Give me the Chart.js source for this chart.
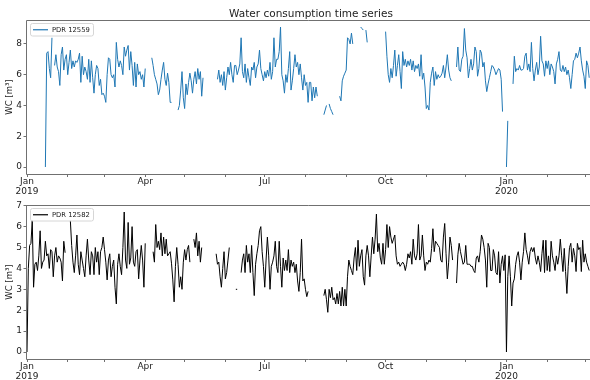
<!DOCTYPE html>
<html>
<head>
<meta charset="utf-8">
<script src="https://cdn.jsdelivr.net/npm/chart.js@4.4.1/dist/chart.umd.min.js"></script>
<style>
  html, body { margin: 0; padding: 0; background: #fff; overflow: hidden; }
  #wrap { position: relative; width: 590px; height: 380px; }
  .box { position: absolute; left: 0; width: 590px; }
  #topBox { top: 0; height: 200px; }
  #botBox { top: 185px; height: 195px; }
</style>
</head>
<body>
<div id="wrap">
  <div class="box" id="topBox"><canvas id="topChart"></canvas></div>
  <div class="box" id="botBox"><canvas id="botChart"></canvas></div>
</div>
<script>
// x axis: days since 2019-01-01, ticks at month starts
const tickDays = [0, 31, 59, 90, 120, 151, 181, 212, 243, 273, 304, 334, 365, 396, 425];
const tickLabels = [['Jan', '2019'], '', '', 'Apr', '', '', 'Jul', '', '', 'Oct', '', '', ['Jan', '2020'], '', ''];

// PDR 12559 - segments (first day of each run, daily values), gaps between
const starts12559 = [14, 21, 95, 115, 145, 226, 230, 238, 254, 258, 273, 327, 365, 370];
const vals12559 = [
  [0.0, 7.4, 7.5, 6.4, 5.8, 8.4],
  [6.6, 7.3, 6.5, 6.2, 5.3, 7.3, 7.8, 6.3, 7.0, 7.3, 6.0, 6.8, 7.6, 6.4, 6.9, 6.5, 6.9, 6.8, 7.0, 7.4,
   5.5, 7.2, 6.0, 6.5, 6.2, 5.7, 7.0, 5.5, 6.9, 5.8, 4.8, 6.0, 6.6, 6.4, 5.3, 5.7, 4.7, 4.8, 4.6, 4.2,
   6.0, 7.1, 7.0, 6.0, 5.8, 6.0, 5.2, 8.1, 7.0, 6.5, 6.9, 6.6, 6.0, 7.8, 7.2, 7.6, 7.9, 6.3, 7.5, 6.6,
   5.3, 6.8, 5.2, 6.7, 6.0, 6.2, 5.7, 6.0, 5.2, 6.4],
  [7.1, 6.6, 6.0, 5.7, 5.4, 4.7, 5.0, 5.7, 6.3, 6.8, 5.7, 5.3, 6.1, 5.5, 4.2, 4.2],
  [3.7, 4.0, 5.0, 6.2, 4.5, 3.8, 5.4, 4.7, 5.5, 6.1, 5.6, 4.8, 5.7, 6.2, 5.4, 6.4, 5.7, 6.2, 4.6, 5.8],
  [5.7, 6.3, 5.5, 6.0, 5.3, 6.2, 5.0, 5.8, 6.5, 6.0, 6.8, 6.0, 5.5, 6.6, 6.6, 6.0, 6.3, 6.7, 8.4, 6.2,
   5.8, 6.7, 5.5, 6.4, 5.8, 5.3, 6.5, 6.3, 6.8, 5.8, 6.5, 6.7, 7.6, 6.4, 6.0, 5.6, 6.2, 5.8, 6.3, 5.9,
   6.8, 5.7, 6.2, 8.4, 6.5, 7.0, 7.0, 7.5, 9.1, 6.0, 5.6, 4.8, 6.0, 5.5, 6.4, 7.5, 5.0, 5.6, 6.4, 7.3,
   6.5, 6.8, 6.0, 6.7, 5.8, 5.0, 6.0, 5.3, 5.5, 4.2, 5.5, 5.5, 4.3, 5.2, 4.5, 5.2, 4.6],
  [3.4, 3.7, 4.0],
  [4.1, 3.8, 3.6, 3.4],
  [4.6, 4.3, 5.6, 5.9, 6.1, 6.3, 8.4, 8.3, 8.0, 8.7, 8.0],
  [9.1, 9.0, 8.9],
  [8.9, 8.1],
  [8.8, 7.2, 6.0, 5.5, 6.4, 5.8, 6.6, 7.6, 5.9, 6.6, 7.3, 6.2, 5.1, 7.5, 6.6, 7.0, 6.5, 6.9, 6.6, 7.0,
   6.3, 6.9, 6.2, 6.6, 6.4, 6.7, 5.9, 7.3, 5.7, 6.1, 5.2, 3.8, 4.0, 3.7, 5.5, 6.1, 6.5, 5.3, 6.2, 5.7,
   6.0, 5.8, 5.9, 6.1, 6.6, 5.8, 6.5, 7.3, 6.3, 5.8, 5.6],
  [6.5, 7.8, 6.3, 6.2, 7.0, 7.2, 9.0, 7.6, 7.1, 5.8, 6.4, 7.0, 6.3, 6.7, 7.8, 7.5, 5.9, 6.4, 7.6, 7.4,
   6.5, 6.8, 5.6, 4.9, 5.4, 5.8, 6.2, 6.6, 6.5, 6.3, 6.0, 6.2, 6.4, 6.3, 5.7, 3.6],
  [0.0, 3.0],
  [5.4, 7.2, 6.2, 6.4, 6.3, 6.6, 6.3, 6.3, 6.4, 7.2, 7.4, 6.3, 6.7, 6.2, 8.1, 6.4, 5.6, 6.3, 6.8, 6.0,
   6.5, 8.5, 6.9, 6.7, 5.9, 6.9, 6.4, 6.9, 6.0, 6.7, 6.5, 6.2, 5.4, 6.7, 7.0, 7.5, 6.3, 6.2, 6.6, 6.2,
   6.5, 6.0, 6.3, 5.8, 5.1, 6.0, 6.9, 7.0, 7.4, 7.1, 7.4, 7.8, 6.9, 6.3, 5.9, 5.1, 6.9, 6.6, 5.8]
];

// PDR 12582
const starts12582 = [0, 33, 96, 127, 144, 159, 163, 226, 327];
const vals12582 = [
  [0.0, 4.0, 5.1, 5.2, 6.3, 3.1, 4.2, 4.3, 3.9, 4.6, 5.8, 4.0, 4.3, 4.4, 5.3, 4.6, 4.7, 4.0, 4.9, 4.8,
   3.6, 4.6, 5.0, 4.3, 4.6, 4.5, 4.3, 3.4, 5.3, 4.75],
  [6.3, 5.1, 4.3, 3.8, 4.6, 5.6, 4.2, 3.7, 4.8, 4.4, 4.0, 3.6, 4.6, 5.4, 4.4, 3.7, 4.8, 4.6, 3.7, 5.0,
   4.3, 4.8, 3.7, 4.8, 5.0, 5.5, 4.9, 4.3, 3.45, 4.4, 4.7, 3.6, 4.1, 4.4, 3.1, 2.3, 4.2, 4.7, 4.1, 3.7,
   5.0, 6.7, 4.4, 4.0, 6.2, 4.2, 4.5, 6.0, 4.3, 4.1, 4.8, 4.9, 3.5, 4.4, 5.1, 4.4, 3.1, 5.2],
  [4.8, 4.3, 6.1, 5.0, 5.3, 4.9, 5.7, 4.6, 5.5, 4.7, 5.4, 4.6, 4.7, 4.8, 4.25, 3.45, 2.4, 4.1, 5.0, 4.2,
   3.1, 3.6, 3.0, 4.3, 4.9, 4.4, 4.9, 5.1, 4.3],
  [5.4, 5.0, 5.7, 4.6, 5.3, 4.3, 5.0],
  [4.7, 4.2, 4.3, 3.6, 3.1, 4.0, 4.8, 3.5, 3.8, 4.4, 5.0],
  [3.0, 3.0],
  [3.8, 4.4, 4.7, 3.8, 5.1, 4.3, 4.7, 3.8, 5.1, 3.8, 2.7, 4.2, 4.7, 5.1, 5.8, 6.0, 4.8, 4.1, 3.1, 4.4,
   5.5, 4.6, 3.0, 4.1, 4.3, 4.6, 5.3, 4.1, 3.8, 5.3, 4.1, 3.1, 4.5, 3.9, 4.4, 3.9, 4.9, 3.8, 4.4, 4.1,
   4.3, 3.8, 4.2, 3.4, 2.9, 3.8, 5.4, 3.4, 3.5, 3.0, 2.65, 2.9],
  [2.7, 3.0, 2.5, 1.9, 3.0, 2.6, 3.1, 2.5, 2.6, 2.3, 2.8, 2.3, 2.9, 2.2, 3.1, 2.2, 3.0, 2.2, 3.6, 4.4,
   4.1, 3.9, 3.7, 4.5, 5.0, 3.9, 5.35, 4.1, 4.6, 4.9, 3.6, 3.2, 4.6, 5.1, 4.6, 3.6, 4.6, 5.5, 4.7, 5.4,
   6.6, 4.8, 5.2, 4.5, 4.2, 5.2, 4.2, 4.9, 6.1, 5.0, 6.0, 5.5, 5.2, 5.4, 5.6, 4.6, 4.2, 4.3, 4.1, 4.2,
   4.3, 4.2, 3.9, 4.2, 4.7, 4.5, 4.8, 4.2, 5.4, 4.6, 4.4, 4.7, 6.1, 4.4, 4.6, 5.6, 4.6, 3.9, 4.3, 4.2,
   4.4, 4.3, 4.95, 5.9, 4.8, 5.3, 5.2, 5.1, 5.0, 4.4, 4.3, 5.5, 6.15, 4.7, 3.5, 4.3, 5.5, 5.1, 4.4],
  [3.3, 4.65, 5.2, 4.8, 4.5, 4.2, 4.3, 5.1, 4.2, 4.2, 4.2, 4.1, 4.1, 3.9, 3.8, 4.5, 4.6, 4.3, 4.8, 5.6,
   5.4, 5.0, 4.4, 3.1, 5.2, 5.0, 3.9, 3.9, 4.9, 4.6, 3.8, 3.7, 4.8, 3.3, 4.2, 4.6, 3.9, 4.65, 0.0, 3.6,
   4.6, 3.6, 2.2, 3.3, 3.5, 4.2, 4.6, 4.8, 4.3, 3.45, 4.3, 4.8, 5.7, 4.9, 4.6, 4.2, 4.8, 5.0, 4.8, 5.0,
   4.5, 4.2, 4.6, 4.3, 3.85, 4.7, 5.35, 3.8, 5.35, 3.9, 4.6, 3.85, 5.3, 4.6, 4.3, 3.9, 4.6, 4.2, 4.6, 5.4,
   4.6, 3.85, 4.96, 3.85, 2.8, 4.1, 5.0, 5.2, 4.3, 4.96, 4.6, 3.85, 5.2, 4.9, 5.0, 3.85, 5.35, 4.3, 4.7, 4.3,
   4.1, 3.9]
];

const yTicksTop = [0, 2, 4, 6, 8];
const yTicksBot = [0, 1, 2, 3, 4, 5, 6, 7];

const FONT = '"DejaVu Sans", sans-serif';
const AXIS_COLOR = '#707070';
const TEXT_COLOR = '#222';
const AXES_RIGHT = 595; // the axes run a little past the picture's right edge

// turn runs into {x, y} points with a null between runs so the line breaks
function buildPoints(starts, runs) {
  const pts = [];
  starts.forEach((s, k) => {
    if (k > 0) pts.push({ x: s - 0.5, y: null });
    runs[k].forEach((v, i) => pts.push({ x: s + i, y: v }));
  });
  return pts;
}

// spines on top, left and bottom (right one is cut off in the picture)
const framePlugin = {
  id: 'frame',
  afterDraw(chart) {
    const { ctx, chartArea: a } = chart;
    const l = Math.round(a.left) - 0.5, t = Math.round(a.top) + 0.5, b = Math.round(a.bottom) + 0.5;
    ctx.save();
    ctx.strokeStyle = AXIS_COLOR;
    ctx.lineWidth = 1;
    ctx.beginPath();
    ctx.moveTo(a.right + 2, t); ctx.lineTo(l, t); ctx.lineTo(l, b); ctx.lineTo(a.right + 2, b);
    ctx.stroke();
    // title centred over the whole axes
    const title = chart.options.plugins.frameTitle;
    if (title) {
      ctx.font = '10.5px ' + FONT;
      ctx.fillStyle = TEXT_COLOR;
      ctx.textAlign = 'center';
      ctx.textBaseline = 'alphabetic';
      ctx.fillText(title, (a.left + AXES_RIGHT) / 2, a.top - 3);
    }
    ctx.restore();
  }
};

// small legend box inside the plot, upper left
const innerLegend = {
  id: 'innerLegend',
  afterDraw(chart) {
    const { ctx, chartArea: a } = chart;
    const ds = chart.data.datasets[0];
    const x = a.left + 3.5, y = a.top + 3.5, w = 63, h = 12.5;
    ctx.save();
    ctx.beginPath();
    ctx.roundRect(x, y, w, h, 2);
    ctx.fillStyle = 'rgba(255,255,255,0.85)';
    ctx.fill();
    ctx.strokeStyle = '#d6d6d6';
    ctx.lineWidth = 1;
    ctx.stroke();
    ctx.beginPath();
    ctx.moveTo(x + 2.5, y + h / 2);
    ctx.lineTo(x + 17.5, y + h / 2);
    ctx.strokeStyle = ds.borderColor;
    ctx.lineWidth = 1.2;
    ctx.stroke();
    ctx.font = '6.8px ' + FONT;
    ctx.fillStyle = TEXT_COLOR;
    ctx.textBaseline = 'middle';
    ctx.fillText(ds.label, x + 21.5, y + h / 2 + 0.5);
    ctx.restore();
  }
};

function makeChart(id, label, color, points, yMin, yMax, yTicks, title, xAxisHeight) {
  return new Chart(document.getElementById(id), {
    type: 'line',
    data: {
      datasets: [{
        label: label,
        data: points,
        borderColor: color,
        borderWidth: 1,
        pointRadius: 0,
        tension: 0,
        spanGaps: false
      }]
    },
    options: {
      responsive: true,
      maintainAspectRatio: false,
      animation: false,
      events: [],
      layout: { padding: { top: 20, left: 0, right: 0, bottom: 0 } },
      plugins: {
        legend: { display: false },
        tooltip: { enabled: false },
        frameTitle: title
      },
      scales: {
        x: {
          type: 'linear',
          min: 0,
          max: 428.6,
          afterBuildTicks: s => { s.ticks = tickDays.map(v => ({ value: v })); },
          afterFit: s => { s.height = xAxisHeight; },
          ticks: {
            autoSkip: false,
            maxRotation: 0,
            padding: 0,
            color: TEXT_COLOR,
            font: { family: FONT, size: 9, lineHeight: 1.1 },
            callback: v => tickLabels[tickDays.indexOf(v)]
          },
          grid: { drawOnChartArea: false, drawTicks: true, tickLength: 3, color: AXIS_COLOR },
          border: { display: false }
        },
        y: {
          min: yMin,
          max: yMax,
          afterBuildTicks: s => { s.ticks = yTicks.map(v => ({ value: v })); },
          afterFit: s => { s.width = 27; },
          ticks: { padding: 1.5, color: TEXT_COLOR, font: { family: FONT, size: 9 } },
          grid: { drawOnChartArea: false, drawTicks: true, tickLength: 3.5, color: AXIS_COLOR },
          border: { display: false },
          title: {
            display: true,
            text: 'WC [m³]',
            color: TEXT_COLOR,
            font: { family: FONT, size: 8.5 },
            padding: { top: 5, bottom: 0 }
          }
        }
      }
    },
    plugins: [framePlugin, innerLegend]
  });
}

makeChart('topChart', 'PDR 12559', '#1f77b4', buildPoints(starts12559, vals12559),
  -0.455, 9.555, yTicksTop, 'Water consumption time series', 26);
makeChart('botChart', 'PDR 12582', '#000000', buildPoints(starts12582, vals12582),
  -0.335, 7.035, yTicksBot, '', 21);
</script>
</body>
</html>
